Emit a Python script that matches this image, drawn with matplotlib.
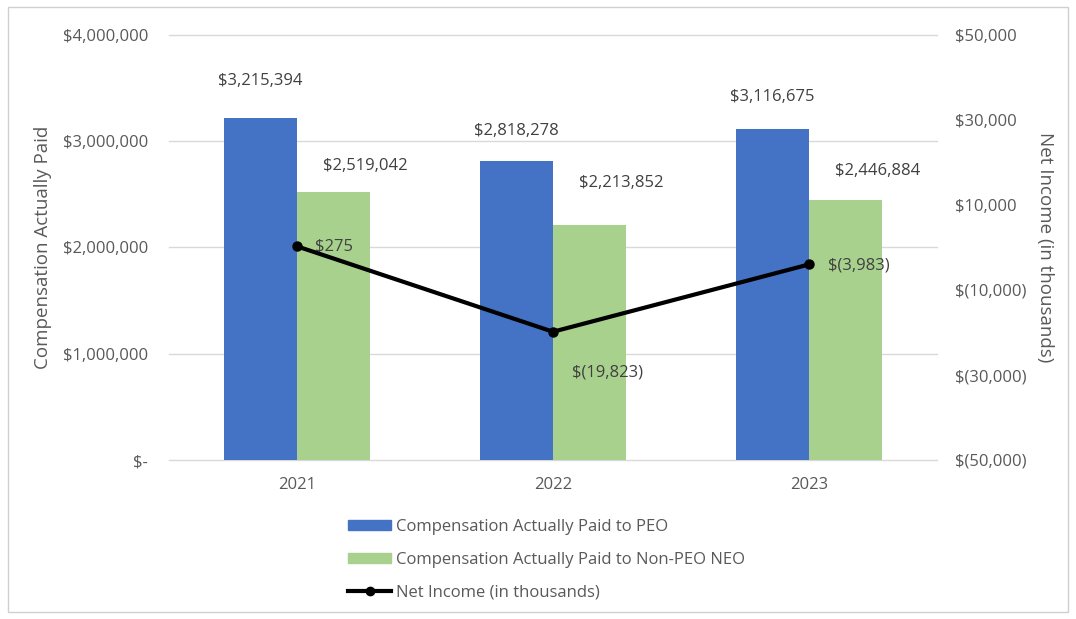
import matplotlib
matplotlib.use("Agg")
import matplotlib.pyplot as plt
from matplotlib.patches import Rectangle
from matplotlib.lines import Line2D
from matplotlib.ticker import FuncFormatter
import numpy as np

plt.rcParams['font.family'] = ['Open Sans', 'DejaVu Sans']

years = ["2021", "2022", "2023"]
peo_cap = [3215394, 2818278, 3116675]
neo_cap = [2519042, 2213852, 2446884]
net_income = [275, -19823, -3983]

left_ticks = [0, 1000000, 2000000, 3000000, 4000000]
right_ticks = [-50000, -30000, -10000, 10000, 30000, 50000]

BLUE = "#4472C4"
GREEN = "#A9D18E"
TXT = "#595959"
GRID = "#D9D9D9"

fig = plt.figure(figsize=(10.76, 6.19), dpi=100)
ax = fig.add_axes([169/1076, 1-460/619, (937-169)/1076, (460-35)/619])
ax2 = ax.twinx()

x = np.arange(len(years))
w = 0.285
ax.bar(x - w/2, peo_cap, w, color=BLUE, zorder=2)
ax.bar(x + w/2, neo_cap, w, color=GREEN, zorder=2)

ax.set_xlim(-0.5, 2.5)
ax.set_ylim(0, 4000000)
ax.set_yticks(left_ticks)
ax.yaxis.set_major_formatter(FuncFormatter(lambda v, p: "$-" if v == 0 else f"${v:,.0f}"))
ax.set_xticks(x)
ax.set_xticklabels(years)
ax.grid(axis='y', color=GRID, linewidth=1, zorder=0)
ax.set_axisbelow(True)
for gl in ax.get_ygridlines():
    gl.set_clip_on(False)
for s in ax.spines.values():
    s.set_visible(False)
for s in ax2.spines.values():
    s.set_visible(False)
ax.tick_params(axis='both', length=0, colors=TXT, labelsize=12)
ax.tick_params(axis='y', pad=15)
ax.tick_params(axis='x', pad=12)
ax.set_ylabel("Compensation Actually Paid", color=TXT, fontsize=13.5, labelpad=8)

ax2.set_ylim(-50000, 50000)
ax2.set_yticks(right_ticks)
ax2.yaxis.set_major_formatter(FuncFormatter(lambda v, p: f"$({abs(v):,.0f})" if v < 0 else f"${v:,.0f}"))
ax2.tick_params(axis='y', length=0, colors=TXT, labelsize=12, pad=13)
ax2.set_ylabel("Net Income (in thousands)", color=TXT, fontsize=13.5, rotation=270, labelpad=20)

ax2.plot(x, net_income, color='black', linewidth=3, marker='o', markersize=6.5, zorder=5)

# bar labels (offsets in points, tuned to reference layout)
blue_off = [(0, 27), (0, 21), (0, 23)]
green_off = [(23, 19), (23, 30), (23, 21)]
for i in range(len(years)):
    ax.annotate(f"${peo_cap[i]:,}", (x[i] - w/2, peo_cap[i]), xytext=blue_off[i],
                textcoords='offset points', ha='center', va='center', color="#404040", fontsize=12)
    ax.annotate(f"${neo_cap[i]:,}", (x[i] + w/2, neo_cap[i]), xytext=green_off[i],
                textcoords='offset points', ha='center', va='center', color="#404040", fontsize=12)

ni_off = [(13, 0), (14, -29), (14, -1)]
for i, v in enumerate(net_income):
    lab = f"$({abs(v):,})" if v < 0 else f"${v:,}"
    ax2.annotate(lab, (x[i], v), xytext=ni_off[i], textcoords='offset points',
                 ha='left', va='center', color="#404040", fontsize=12)

handles = [Rectangle((0, 0), 1, 1, color=BLUE),
           Rectangle((0, 0), 1, 1, color=GREEN),
           Line2D([0], [0], color='black', linewidth=3, marker='o', markersize=6)]
labels = ["Compensation Actually Paid to PEO",
          "Compensation Actually Paid to Non-PEO NEO",
          "Net Income (in thousands)"]
fig.legend(handles, labels, loc='upper left', bbox_to_anchor=(348/1076, 1-519/619),
           frameon=False, fontsize=12, labelcolor=TXT, handlelength=2.6,
           handleheight=0.55, handletextpad=0.25, labelspacing=1.0, borderaxespad=0,
           borderpad=0)

fig.patches.append(Rectangle((8/1076, 7/619), 1060/1076, 605/619, transform=fig.transFigure,
                             fill=False, edgecolor="#D0D0D0", linewidth=1))

fig.savefig("out.png", dpi=100)
